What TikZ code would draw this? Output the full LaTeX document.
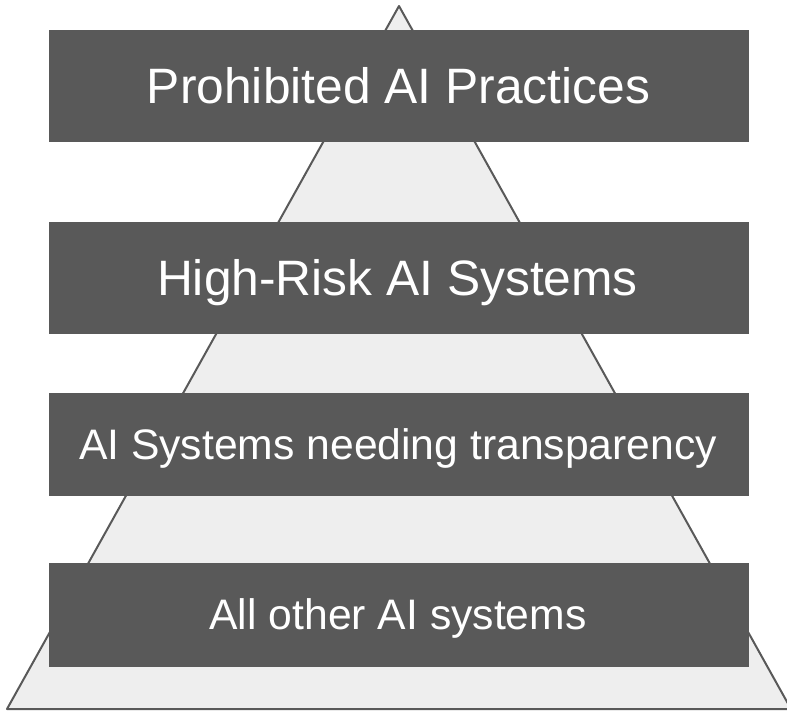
\documentclass[tikz,border=0pt]{standalone}
\usepackage{fontspec}
\setmainfont{Liberation Sans}
\definecolor{boxgray}{HTML}{595959}
\definecolor{trifill}{HTML}{EEEEEE}
\begin{document}
\begin{tikzpicture}[x=0.75pt,y=-0.75pt,
  tier/.style={fill=boxgray,draw=none},
  tierlabel/.style={text=white,anchor=base,inner sep=0pt},
  big/.style={font=\fontsize{37.3}{41}\selectfont},
  small/.style={font=\fontsize{32}{36}\selectfont}]
\useasboundingbox (0,0) rectangle (787,711);
\coordinate (apex) at (399,6);
\coordinate (bl) at (7,709);
\coordinate (br) at (791,709);
\draw[fill=trifill,draw=boxgray,line width=1.5pt,line join=round] (apex) -- (bl) -- (br) -- cycle;
\fill[tier] (49,30) rectangle (749,141.5);
\fill[tier] (49,222) rectangle (749,334);
\fill[tier] (49,392.5) rectangle (749,495.5);
\fill[tier] (49,563) rectangle (749,667);
\node[tierlabel,big] (t1) at (398.5,103) {Prohibited AI Practices};
\node[tierlabel,big] (t2) at (397.5,295) {High-Risk AI Systems};
\node[tierlabel,small] (t3) at (398,459) {AI Systems needing transparency};
\node[tierlabel,small] (t4) at (398,629) {All other AI systems};
\end{tikzpicture}
\end{document}
